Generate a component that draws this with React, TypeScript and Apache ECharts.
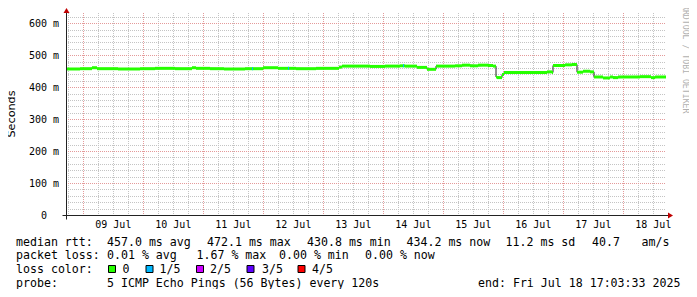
import { useEffect, useRef } from "react";
import * as echarts from "echarts";

// ---- time axis (hours since 08 Jul 00:00) ----
const START_HOUR = 17.0592; // Jul 08 17:03:33
const END_HOUR = 257.0592; // Jul 18 17:03:33
const Y_MAX = 626;

const dayLabels = ["09 Jul", "10 Jul", "11 Jul", "12 Jul", "13 Jul", "14 Jul", "15 Jul", "16 Jul", "17 Jul", "18 Jul"];
const dayLabelHours = [36, 60, 84, 108, 132, 156, 180, 204, 228, 252];
const midnightHours = [24, 48, 72, 96, 120, 144, 168, 192, 216, 240];
const sixHourHours = [18, 30, 36, 42, 54, 60, 66, 78, 84, 90, 102, 108, 114, 126, 132, 138, 150, 156, 162, 174, 180, 186, 198, 204, 210, 222, 228, 234, 246, 252];

const yMajorValues = [100, 200, 300, 400, 500, 600];
const yMinorValues = [20, 40, 60, 80, 120, 140, 160, 180, 220, 240, 260, 280, 320, 340, 360, 380, 420, 440, 460, 480, 520, 540, 560, 580, 620];
const yTickLabels = ["0", "100 m", "200 m", "300 m", "400 m", "500 m", "600 m"];

// ---- median rtt (hours since start, ms) ----
const medianHours = [0, 5.6, 10.4, 12.4, 20.8, 29.6, 35.6, 43.6, 50.4, 52, 57.6, 63.2, 71.6, 78.8, 84.8, 92, 100, 109.2, 110.4, 121.6, 127.6, 133.6, 135.6, 140.4, 144.4, 148, 155.6, 158.4, 161.6, 164.8, 168.8, 170.8, 172, 172.4, 174.4, 175.2, 181.6, 192.4, 194.4, 194.8, 199.6, 202.4, 204.4, 206.8, 209.6, 211.2, 214.8, 217.6, 218.8, 220.8, 229.6, 234, 235.6, 240];
const medianMs = [457, 458, 461, 458, 457, 458, 459, 458, 461, 459, 458, 457, 458, 461, 459, 458, 459, 463, 466, 465, 466, 467, 466, 462, 456, 466, 467, 469, 467, 469, 468, 466, 432, 430, 440, 446, 446, 448, 446, 468, 470, 471, 447, 450, 448, 432, 429, 432, 430, 432, 433, 430, 432, 434];

// ---- loss 1/5 events (hours since start, ms) ----
const lossHours = [74.4, 88.8, 134.8];
const lossMs = [458, 459, 467];

const lossLegend = ["0", "1/5", "2/5", "3/5", "4/5"];
const lossColors = ["#26ff00", "#00b8ff", "#cc00ff", "#5e00ff", "#ff0000"];

const MONO = "DejaVu Sans Mono";
const MINOR = "#c4c4c4";
const MAJOR = "#e49a9a";
const ARROW = "#c00000";

export default function App() {
  const ref = useRef<HTMLDivElement>(null);
  useEffect(() => {
    if (!ref.current) return;
    const chart = echarts.init(ref.current, null, { renderer: "svg" });

    const linePts = medianHours.map((h, i) => [START_HOUR + h, medianMs[i]]);
    const segs = medianHours.slice(0, -1).map((h, i) => [START_HOUR + h, START_HOUR + medianHours[i + 1], medianMs[i]]);
    const vGrid = [...sixHourHours.map((h) => [h, 0]), ...midnightHours.map((h) => [h, 1])];
    const hGrid = [...yMinorValues.map((v) => [START_HOUR, v, 0]), ...yMajorValues.map((v) => [START_HOUR, v, 1])];

    const staticGraphics: any[] = [];
    const addText = (x: number, y: number, t: string) =>
      staticGraphics.push({
        type: "text",
        x,
        y,
        style: { text: t, fill: "#000", fontFamily: MONO, fontSize: 11.6, align: "left", verticalAlign: "middle" },
      });
    [
      [16, "median rtt:"], [107, "457.0 ms avg"], [207, "472.1 ms max"], [307, "430.8 ms min"],
      [406.5, "434.2 ms now"], [505.5, "11.2 ms sd"], [592, "40.7"], [641.5, "am/s"],
    ].forEach(([x, t]) => addText(x as number, 241.5, t as string));
    [
      [16, "packet loss:"], [107, "0.01 % avg"], [196.5, "1.67 % max"], [279, "0.00 % min"], [365, "0.00 % now"],
    ].forEach(([x, t]) => addText(x as number, 255, t as string));
    addText(16, 269, "loss color:");
    const sqX = [108.5, 146, 196.5, 247, 298];
    const lblX = [122.5, 159.5, 210, 262, 312];
    lossLegend.forEach((l, i) => {
      staticGraphics.push({
        type: "rect",
        shape: { x: sqX[i], y: 265.5, width: 7, height: 7 },
        style: { fill: lossColors[i], stroke: "#000", lineWidth: 1 },
      });
      addText(lblX[i], 269, l);
    });
    addText(16, 282.7, "probe:");
    addText(107, 282.7, "5 ICMP Echo Pings (56 Bytes) every 120s");
    addText(478, 282.7, "end: Fri Jul 18 17:03:33 2025");
    staticGraphics.push(
      {
        type: "text",
        x: 11,
        y: 114,
        rotation: Math.PI / 2,
        style: { text: "Seconds", fill: "#000", fontFamily: "DejaVu Sans", fontSize: 11.2, align: "center", verticalAlign: "middle" },
      },
      {
        type: "text",
        x: 686,
        y: 5,
        rotation: -Math.PI / 2,
        style: { text: "RRDTOOL / TOBI OETIKER", fill: "#b0b0b0", fontFamily: MONO, fontSize: 8.2, align: "left", verticalAlign: "middle" },
      }
    );

    chart.setOption({
      animation: false,
      backgroundColor: "#ffffff",
      grid: { left: 66, top: 15, width: 600, height: 200 },
      xAxis: {
        type: "value",
        min: START_HOUR,
        max: END_HOUR,
        axisLine: { show: false },
        axisTick: { show: false },
        axisLabel: { show: false },
        splitLine: { show: false },
      },
      yAxis: {
        type: "value",
        min: 0,
        max: Y_MAX,
        interval: 100,
        axisLine: { show: false },
        axisTick: { show: false },
        splitLine: { show: false },
        axisLabel: {
          showMaxLabel: false,
          margin: 7,
          color: "#000",
          fontFamily: MONO,
          fontSize: 10,
          formatter: (v: number) => {
            if (v % 100 !== 0) return "";
            const s = yTickLabels[v / 100];
            return v === 0 ? "{z|" + s + "}" : s;
          },
          rich: { z: { padding: [0, 12, 0, 0], fontFamily: MONO, fontSize: 10, color: "#000" } },
        },
      },
      graphic: staticGraphics,
      series: [
        {
          type: "custom",
          name: "vgrid",
          z: 1,
          silent: true,
          clip: false,
          data: vGrid,
          renderItem: (_p: any, api: any) => {
            const x = api.value(0);
            const major = api.value(1);
            const a = api.coord([x, Y_MAX]);
            const b = api.coord([x, 0]);
            const px = Math.round(a[0]) + 0.5;
            return {
              type: "line",
              shape: { x1: px, y1: a[1] - 2, x2: px, y2: b[1] },
              style: { stroke: major ? MAJOR : MINOR, lineWidth: 1, lineDash: [1, 1] },
            };
          },
        },
        {
          type: "custom",
          name: "hgrid",
          z: 1,
          silent: true,
          data: hGrid,
          renderItem: (_p: any, api: any) => {
            const v = api.value(1);
            const major = api.value(2);
            const a = api.coord([START_HOUR, v]);
            const b = api.coord([END_HOUR, v]);
            const py = Math.round(a[1]) + 0.5;
            return {
              type: "line",
              shape: { x1: a[0], y1: py, x2: b[0], y2: py },
              style: { stroke: major ? MAJOR : MINOR, lineWidth: 1, lineDash: [1, 1] },
            };
          },
        },
        {
          type: "custom",
          name: "daylabels",
          z: 2,
          silent: true,
          clip: false,
          data: dayLabelHours.map((h, i) => [h, 0, i]),
          renderItem: (_p: any, api: any) => {
            const p = api.coord([api.value(0), 0]);
            return {
              type: "text",
              x: p[0],
              y: p[1] + 9.5,
              style: { text: dayLabels[api.value(2)], fill: "#000", fontFamily: MONO, fontSize: 10, align: "center", verticalAlign: "middle" },
            };
          },
        },
        {
          type: "line",
          name: "median",
          z: 3,
          step: "end",
          symbol: "none",
          data: linePts,
          lineStyle: { color: "#202020", width: 1 },
        },
        {
          type: "custom",
          name: "loss0",
          z: 4,
          data: segs,
          encode: { x: [0, 1], y: 2 },
          renderItem: (_p: any, api: any) => {
            const v = api.value(2);
            const a = api.coord([api.value(0), v]);
            const b = api.coord([api.value(1), v]);
            return {
              type: "rect",
              shape: { x: a[0], y: a[1] - 1.5, width: b[0] - a[0], height: 3 },
              style: { fill: lossColors[0] },
            };
          },
        },
        {
          type: "custom",
          name: "loss1",
          z: 5,
          data: lossHours.map((h, i) => [START_HOUR + h, lossMs[i]]),
          renderItem: (_p: any, api: any) => {
            const a = api.coord([api.value(0), api.value(1)]);
            return {
              type: "rect",
              shape: { x: Math.round(a[0]), y: a[1] - 1.5, width: 1, height: 3 },
              style: { fill: lossColors[1] },
            };
          },
        },
        {
          type: "custom",
          name: "frame",
          z: 6,
          silent: true,
          clip: false,
          data: [[START_HOUR, 0]],
          renderItem: (_p: any, api: any) => {
            const o = api.coord([START_HOUR, 0]);
            const r = api.coord([END_HOUR, 0]);
            const t = api.coord([START_HOUR, Y_MAX]);
            const x0 = Math.round(o[0]) + 0.5;
            const y0 = Math.round(o[1]) + 0.5;
            const x1 = r[0];
            const yt = t[1];
            return {
              type: "group",
              children: [
                { type: "line", shape: { x1: x0 - 4, y1: y0, x2: x1 + 3, y2: y0 }, style: { stroke: "#222", lineWidth: 1 } },
                { type: "line", shape: { x1: x0, y1: y0 + 4, x2: x0, y2: yt - 2 }, style: { stroke: "#222", lineWidth: 1 } },
                { type: "polygon", shape: { points: [[x1 + 2, y0 - 3], [x1 + 2, y0 + 3], [x1 + 7, y0]] }, style: { fill: ARROW } },
                { type: "polygon", shape: { points: [[x0 - 3, yt - 2], [x0 + 3, yt - 2], [x0, yt - 7]] }, style: { fill: ARROW } },
              ],
            };
          },
        },
      ],
    });
    return () => chart.dispose();
  }, []);
  return <div ref={ref} style={{ width: 697, height: 297, margin: -8 }} />;
}
